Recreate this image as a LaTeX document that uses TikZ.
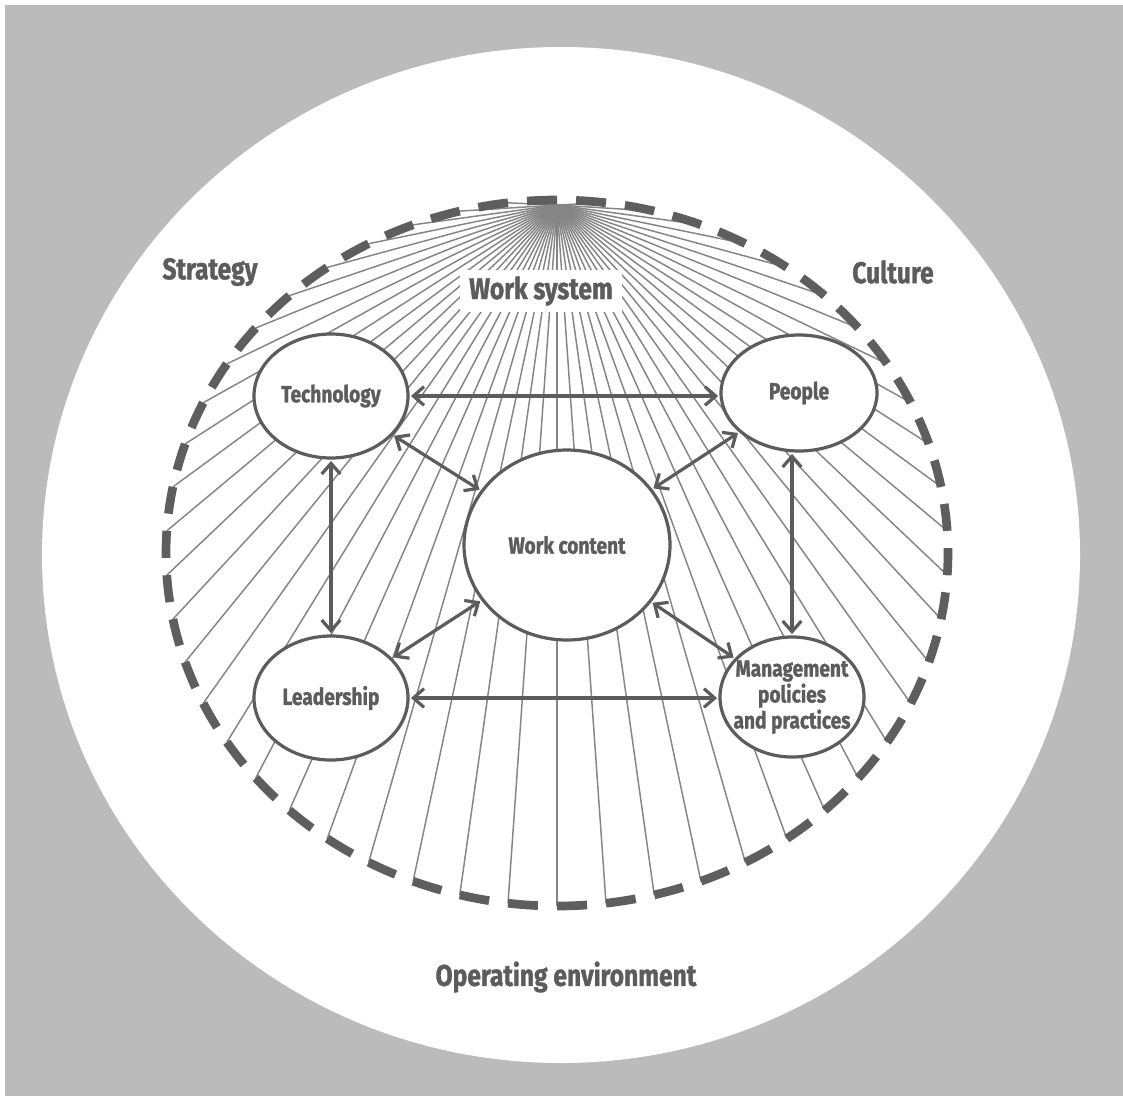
\documentclass[tikz,border=0pt]{standalone}
\usepackage{fontspec}
\setmainfont{Fira Sans}
\newfontfamily\labfont[FakeStretch=0.82, BoldFeatures={FakeBold=1.2}]{Fira Sans}
\usetikzlibrary{arrows.meta,calc,shapes.geometric}
\definecolor{bg}{HTML}{BBBBBB}
\definecolor{ink}{HTML}{5C5C5C}
\definecolor{raycol}{HTML}{858585}
\definecolor{dashcol}{HTML}{5E5E5E}
\tikzset{
  oval/.style={ellipse, draw=ink, line width=2.4pt, fill=white, inner sep=0pt},
  ovaltext/.style={font=\labfont\bfseries\fontsize{17.5}{19.5}\selectfont, text=ink, align=center, inner sep=0pt},
  bigtext/.style={font=\labfont\bfseries\fontsize{22.5}{25}\selectfont, text=ink, inner sep=0pt},
  arr/.style={draw=ink, line width=2.4pt, {Straight Barb[length=8pt,width=14pt]}-{Straight Barb[length=8pt,width=14pt]}, shorten >=1pt, shorten <=1pt},
  rayline/.style={draw=raycol, line width=1.1pt},
  dashseg/.style={draw=dashcol, line width=6.5pt}
}
\begin{document}
\begin{tikzpicture}[x=0.75pt,y=-0.75pt]
\useasboundingbox (0,0) rectangle (1123,1096);
\fill[bg] (0,0) rectangle (1123,1096);
\fill[white] (0,0) rectangle (1123,5);
\fill[white] (0,0) rectangle (5,1096);
\fill[white] (561,555) ellipse [x radius=389.25pt, y radius=381pt];
% work system ring
\coordinate (C) at (557,553);
\coordinate (apex) at (557,205);
\foreach \k in {1,...,49} {
  \pgfmathsetmacro\t{90+\k*7.2}
  \draw[rayline] (apex) -- ($(C)+(\t:293.25pt and 264.75pt)$);
}
\foreach \k in {0,...,49} {
  \pgfmathsetmacro\t{90+\k*7.2}
  \draw[dashseg] ($(C)+(\t:293.25pt and 264.75pt)$) arc[start angle=\t, delta angle=4.4, x radius=293.25pt, y radius=264.75pt];
}
% labels
\node[bigtext, fill=white, minimum width=122pt, minimum height=31pt] (ws) at (541,291) {Work system};
\node[bigtext] (strategy) at (210,272) {Strategy};
\node[bigtext] (culture) at (893,272) {Culture};
\node[bigtext] (env) at (566,977) {Operating environment};
% nodes
\node[oval, minimum width=115.5pt, minimum height=93pt, label={[ovaltext]center:Technology}] (tech) at (331,396) {};
\node[oval, minimum width=117pt, minimum height=87pt, label={[ovaltext]center:People}] (people) at (799,393) {};
\node[oval, minimum width=154.5pt, minimum height=142.5pt, label={[ovaltext]center:Work content}] (wc) at (567,545) {};
\node[oval, minimum width=115.5pt, minimum height=93pt, label={[ovaltext]center:Leadership}] (lead) at (331,698) {};
\node[oval, minimum width=108pt, minimum height=90pt, label={[ovaltext]center:{Management\\policies\\and practices}}] (mgmt) at (792,697) {};
% connectors
\draw[arr] (tech.east |- 0,396) -- (people.west |- 0,396);
\draw[arr] (lead.east |- 0,698) -- (mgmt.west |- 0,698);
\draw[arr] (tech) -- (lead);
\draw[arr] (mgmt.north) -- (mgmt.north |- people.south);
\draw[arr] (tech) -- (wc);
\draw[arr] (people) -- (wc);
\draw[arr] (lead) -- (wc);
\draw[arr] (mgmt) -- (wc);
\end{tikzpicture}
\end{document}
